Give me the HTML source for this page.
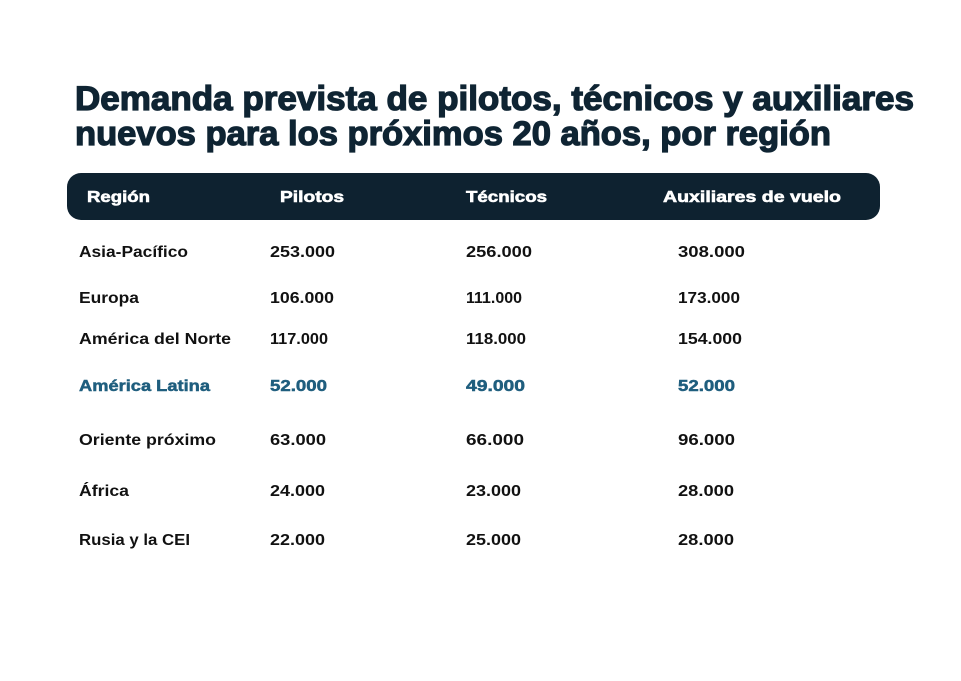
<!DOCTYPE html>
<html><head><meta charset="utf-8"><style>
html,body{margin:0;padding:0;background:#fff;}
svg{display:block;font-family:"Liberation Sans",sans-serif;font-weight:bold;}
</style></head><body>
<svg width="961" height="681" viewBox="0 0 961 681">
<rect width="961" height="681" fill="#fff"/>
<g fill="#0f2433" stroke="#0f2433" stroke-width="1.3" font-size="34">
<text x="75" y="110" textLength="839" lengthAdjust="spacingAndGlyphs">Demanda prevista de pilotos, técnicos y auxiliares</text>
<text x="75" y="145" textLength="756" lengthAdjust="spacingAndGlyphs">nuevos para los próximos 20 años, por región</text>
</g>
<rect x="67" y="173" width="813" height="47" rx="14" fill="#0e2230"/>
<g fill="#fff" stroke="#fff" stroke-width="0.6" font-size="16">
<text x="87" y="202" textLength="63" lengthAdjust="spacingAndGlyphs">Región</text>
<text x="280" y="202" textLength="64" lengthAdjust="spacingAndGlyphs">Pilotos</text>
<text x="466" y="202" textLength="81" lengthAdjust="spacingAndGlyphs">Técnicos</text>
<text x="663" y="202" textLength="178" lengthAdjust="spacingAndGlyphs">Auxiliares de vuelo</text>
</g>
<g fill="#111" font-size="16">
<text x="79" y="257" textLength="109" lengthAdjust="spacingAndGlyphs">Asia-Pacífico</text>
<text x="270" y="257" textLength="65" lengthAdjust="spacingAndGlyphs">253.000</text>
<text x="466" y="257" textLength="66" lengthAdjust="spacingAndGlyphs">256.000</text>
<text x="678" y="257" textLength="67" lengthAdjust="spacingAndGlyphs">308.000</text>

<text x="79" y="303" textLength="60" lengthAdjust="spacingAndGlyphs">Europa</text>
<text x="270" y="303" textLength="64" lengthAdjust="spacingAndGlyphs">106.000</text>
<text x="466" y="303" textLength="56" lengthAdjust="spacingAndGlyphs">111.000</text>
<text x="678" y="303" textLength="62" lengthAdjust="spacingAndGlyphs">173.000</text>

<text x="79" y="344" textLength="152" lengthAdjust="spacingAndGlyphs">América del Norte</text>
<text x="270" y="344" textLength="58" lengthAdjust="spacingAndGlyphs">117.000</text>
<text x="466" y="344" textLength="60" lengthAdjust="spacingAndGlyphs">118.000</text>
<text x="678" y="344" textLength="64" lengthAdjust="spacingAndGlyphs">154.000</text>

<g fill="#1f5e7e" stroke="#1f5e7e" stroke-width="0.5">
<text x="79" y="391" textLength="131" lengthAdjust="spacingAndGlyphs">América Latina</text>
<text x="270" y="391" textLength="57" lengthAdjust="spacingAndGlyphs">52.000</text>
<text x="466" y="391" textLength="59" lengthAdjust="spacingAndGlyphs">49.000</text>
<text x="678" y="391" textLength="57" lengthAdjust="spacingAndGlyphs">52.000</text>
</g>

<text x="79" y="445" textLength="137" lengthAdjust="spacingAndGlyphs">Oriente próximo</text>
<text x="270" y="445" textLength="56" lengthAdjust="spacingAndGlyphs">63.000</text>
<text x="466" y="445" textLength="58" lengthAdjust="spacingAndGlyphs">66.000</text>
<text x="678" y="445" textLength="57" lengthAdjust="spacingAndGlyphs">96.000</text>

<text x="79" y="496" textLength="50" lengthAdjust="spacingAndGlyphs">África</text>
<text x="270" y="496" textLength="55" lengthAdjust="spacingAndGlyphs">24.000</text>
<text x="466" y="496" textLength="55" lengthAdjust="spacingAndGlyphs">23.000</text>
<text x="678" y="496" textLength="56" lengthAdjust="spacingAndGlyphs">28.000</text>

<text x="79" y="545" textLength="111" lengthAdjust="spacingAndGlyphs">Rusia y la CEI</text>
<text x="270" y="545" textLength="55" lengthAdjust="spacingAndGlyphs">22.000</text>
<text x="466" y="545" textLength="55" lengthAdjust="spacingAndGlyphs">25.000</text>
<text x="678" y="545" textLength="56" lengthAdjust="spacingAndGlyphs">28.000</text>
</g>
</svg>
</body></html>
